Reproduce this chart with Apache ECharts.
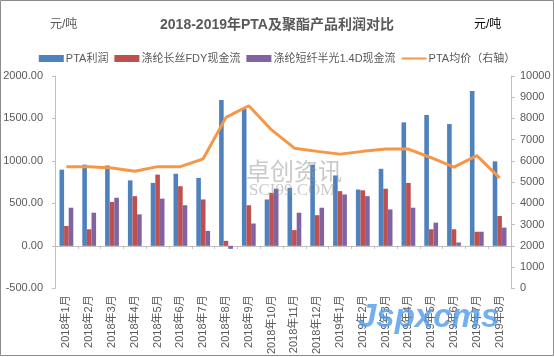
<!DOCTYPE html>
<html><head><meta charset="utf-8">
<script src="https://cdn.jsdelivr.net/npm/echarts@6/dist/echarts.min.js"></script>
<style>html,body{margin:0;padding:0;background:#fff}#c{width:554px;height:357px}</style>
</head><body><div id="c"></div>
<script>
const categories = ['2018年1月','2018年2月','2018年3月','2018年4月','2018年5月','2018年6月','2018年7月','2018年8月','2018年9月','2018年10月','2018年11月','2018年12月','2019年1月','2019年2月','2019年3月','2019年4月','2019年5月','2019年6月','2019年7月','2019年8月'];
const ptaProfit = [897,956,946,771,741,849,800,1717,1610,546,683,956,829,663,907,1454,1541,1434,1824,995];
const fdyCash = [234,195,517,585,839,702,546,59,478,624,185,361,644,654,673,741,195,195,166,351];
const psfCash = [449,390,566,371,556,478,176,-36,263,673,390,449,605,585,429,449,273,39,166,215];
const ptaPrice = [5730,5730,5670,5510,5730,5730,6100,8050,8600,7460,6600,6450,6320,6450,6560,6560,6150,5710,6250,5200];
const leftTicks = {min:-500, max:2000, interval:500};
const rightTicks = {min:0, max:10000, interval:1000};

const FONT = '"Liberation Sans","Noto Sans CJK SC",sans-serif';
const chart = echarts.init(document.getElementById('c'), null, {renderer:'canvas'});
const axisColor = '#BFBFBF';
const txt = '#595959';
const lineIcon = 'path://M0,0L0.01,0L0.01,0.01Z M0,2.5L25,2.5L25,4.5L0,4.5Z M0,7L0.01,7L0.01,6.99Z';
chart.setOption({
  animation:false,
  color:['#4F81BD','#C0504D','#8064A2','#F79646'],
  textStyle:{fontFamily:FONT},
  title:{text:'2018-2019年PTA及聚酯产品利润对比', left:'center', top:13, itemGap:0,
    textStyle:{fontSize:14, fontWeight:'bold', color:txt, fontFamily:FONT}},
  legend:{top:48, left:'center', itemWidth:25, itemHeight:7, itemGap:6,
    textStyle:{fontSize:11, color:txt, fontFamily:FONT, padding:[0,0,0,-3]},
    data:[{name:'PTA利润',icon:'rect'},{name:'涤纶长丝FDY现金流',icon:'rect'},{name:'涤纶短纤半光1.4D现金流',icon:'rect'},{name:'PTA均价（右轴）',icon:lineIcon, itemStyle:{color:'#F79646', borderWidth:0}}]},
  grid:{left:55, right:43, top:76, bottom:25},
  xAxis:{type:'category', data:categories,
    axisLine:{onZero:true, lineStyle:{color:axisColor}},
    axisTick:{show:true, length:3, lineStyle:{color:axisColor}},
    axisLabel:{rotate:90, fontSize:11, color:txt, interval:0, margin:7, fontFamily:FONT}},
  yAxis:[
    {type:'value', min:leftTicks.min, max:leftTicks.max, interval:leftTicks.interval,
     axisLine:{show:true, lineStyle:{color:axisColor}},
     axisTick:{show:true, length:3, lineStyle:{color:axisColor}},
     splitLine:{show:false},
     axisLabel:{fontSize:11, color:txt, margin:12, fontFamily:FONT, formatter:v=>v.toFixed(2)}},
    {type:'value', min:rightTicks.min, max:rightTicks.max, interval:rightTicks.interval,
     axisLine:{show:true, lineStyle:{color:axisColor}},
     axisTick:{show:true, length:4, lineStyle:{color:axisColor}},
     splitLine:{show:false},
     axisLabel:{fontSize:11, color:txt, margin:9, fontFamily:FONT, formatter:v=>String(v)}}
  ],
  series:[
    {name:'PTA利润', type:'bar', data:ptaProfit, barWidth:4.6, barGap:'0%'},
    {name:'涤纶长丝FDY现金流', type:'bar', data:fdyCash, barWidth:4.6, barGap:'0%'},
    {name:'涤纶短纤半光1.4D现金流', type:'bar', data:psfCash, barWidth:4.6, barGap:'0%'},
    {name:'PTA均价（右轴）', type:'line', yAxisIndex:1, data:ptaPrice, showSymbol:false, symbol:'none',
     lineStyle:{width:3, color:'#F79646'}, z:5}
  ],
  graphic:[
    {type:'rect', shape:{x:0.5,y:0.5,width:553,height:355}, style:{fill:'none', stroke:'#8C8C8C', lineWidth:1}, silent:true},
    {type:'text', left:50, top:19, style:{text:'元/吨', fontSize:12, fill:txt, fontFamily:FONT}},
    {type:'text', left:474, top:19, style:{text:'元/吨', fontSize:12, fill:'#000', fontFamily:FONT}},
    {type:'text', left:246, top:159, z:10, style:{text:'卓创资讯', fontSize:24, fill:'rgba(150,150,150,0.5)', fontFamily:'"Noto Sans CJK SC"'}},
    {type:'text', left:249, top:182, z:10, style:{text:'SCI99.COM', fontSize:17, fill:'rgba(150,150,150,0.5)', fontFamily:'"Liberation Serif",serif'}},
    {type:'text', left:358, top:301, z:10, style:{text:'Jspxcms', fontSize:33, fontWeight:'bold', fontStyle:'italic', fill:'rgba(80,155,235,0.8)', fontFamily:'"Liberation Sans",sans-serif'}}
  ]
});
</script></body></html>
